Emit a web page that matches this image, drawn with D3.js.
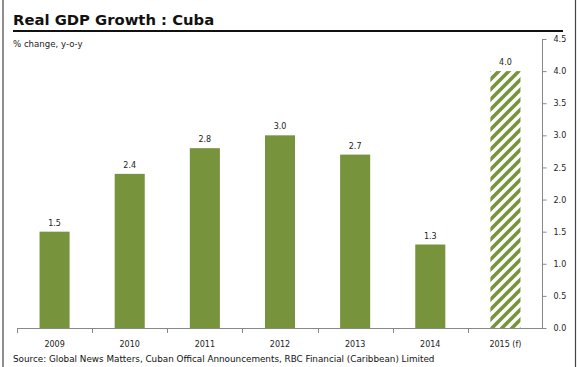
<!DOCTYPE html>
<html><head><meta charset="utf-8">
<script src="https://cdn.jsdelivr.net/npm/d3@7"></script>
<style>body{margin:0;background:#fff}svg{display:block}text{font-family:"DejaVu Sans",sans-serif}</style>
</head><body>
<script>
const categories = ["2009","2010","2011","2012","2013","2014","2015 (f)"];
const values = [1.5, 2.4, 2.8, 3.0, 2.7, 1.3, 4.0];
const forecast = [false,false,false,false,false,false,true];
const yTicks = [0,0.5,1,1.5,2,2.5,3,3.5,4,4.5];
const title = "Real GDP Growth : Cuba";
const subtitle = "% change, y-o-y";
const source = "Source: Global News Matters, Cuban Offical Announcements, RBC Financial (Caribbean) Limited";

const W = 579, H = 367;
const green = "#77933c";
const svg = d3.select("body").append("svg").attr("width", W).attr("height", H);
const defs = svg.append("defs");
const pat = defs.append("pattern").attr("id","hatch").attr("patternUnits","userSpaceOnUse")
  .attr("width",10).attr("height",10);
pat.append("rect").attr("width",10).attr("height",10).attr("fill","#fff");
pat.append("path").attr("d","M-2,12 L12,-2 M-7,7 L7,-7 M3,17 L17,3")
  .attr("stroke",green).attr("stroke-width",3.6);

// frame
svg.append("line").attr("x1",3).attr("x2",3).attr("y1",0).attr("y2",H).attr("stroke","#444").attr("stroke-width",1.2);
svg.append("line").attr("x1",575.5).attr("x2",575.5).attr("y1",0).attr("y2",H).attr("stroke","#444").attr("stroke-width",1.2);

svg.append("text").attr("x",13).attr("y",25).attr("font-size",14.8).attr("font-weight","bold")
  .attr("fill","#111").text(title);
svg.append("line").attr("x1",13).attr("x2",563).attr("y1",31).attr("y2",31).attr("stroke","#111").attr("stroke-width",2);
svg.append("text").attr("x",13).attr("y",47).attr("font-size",8.6).attr("fill","#222").text(subtitle);

const x = d3.scaleBand().domain(categories).range([17,543]).paddingInner(0.6).paddingOuter(0.3);
const y = d3.scaleLinear().domain([0,4.5]).range([328,39]);

const g = svg.append("g");
g.selectAll("rect.bar").data(categories).join("rect").attr("class","bar")
  .attr("x", d => x(d)).attr("width", x.bandwidth())
  .attr("y", (d,i) => y(values[i])).attr("height", (d,i) => y(0) - y(values[i]))
  .attr("fill", (d,i) => forecast[i] ? "url(#hatch)" : green);
g.selectAll("text.val").data(categories).join("text").attr("class","val")
  .attr("x", d => x(d) + x.bandwidth()/2).attr("y", (d,i) => y(values[i]) - 6)
  .attr("text-anchor","middle").attr("font-size",8).attr("fill","#222")
  .text((d,i) => values[i].toFixed(1));

// x axis
const xa = svg.append("g");
xa.append("line").attr("x1",17).attr("x2",543).attr("y1",328.5).attr("y2",328.5).attr("stroke","#888");
const step = x.step();
const bounds = d3.range(categories.length).map(i => 17 + i*step);
xa.selectAll("line.t").data(bounds).join("line").attr("class","t")
  .attr("x1", d => Math.round(d)+0.5).attr("x2", d => Math.round(d)+0.5).attr("y1",328).attr("y2",333).attr("stroke","#888");
xa.selectAll("text").data(categories).join("text")
  .attr("x", d => x(d) + x.bandwidth()/2).attr("y",347).attr("text-anchor","middle")
  .attr("font-size",8).attr("fill","#222").text(d => d);

// y axis (right)
const ya = svg.append("g").attr("transform","translate(542.5,0)")
  .call(d3.axisRight(y).tickValues(yTicks).tickFormat(d3.format(".1f")).tickSize(4).tickPadding(7));
ya.selectAll("path,line").attr("stroke","#888");
ya.select(".domain").attr("d","M0,39V328");
ya.selectAll("text").attr("font-size",8).attr("fill","#222").attr("font-family","DejaVu Sans, sans-serif");

svg.append("text").attr("x",13).attr("y",362).attr("font-size",8.8).attr("fill","#111").text(source);
</script>
</body></html>
